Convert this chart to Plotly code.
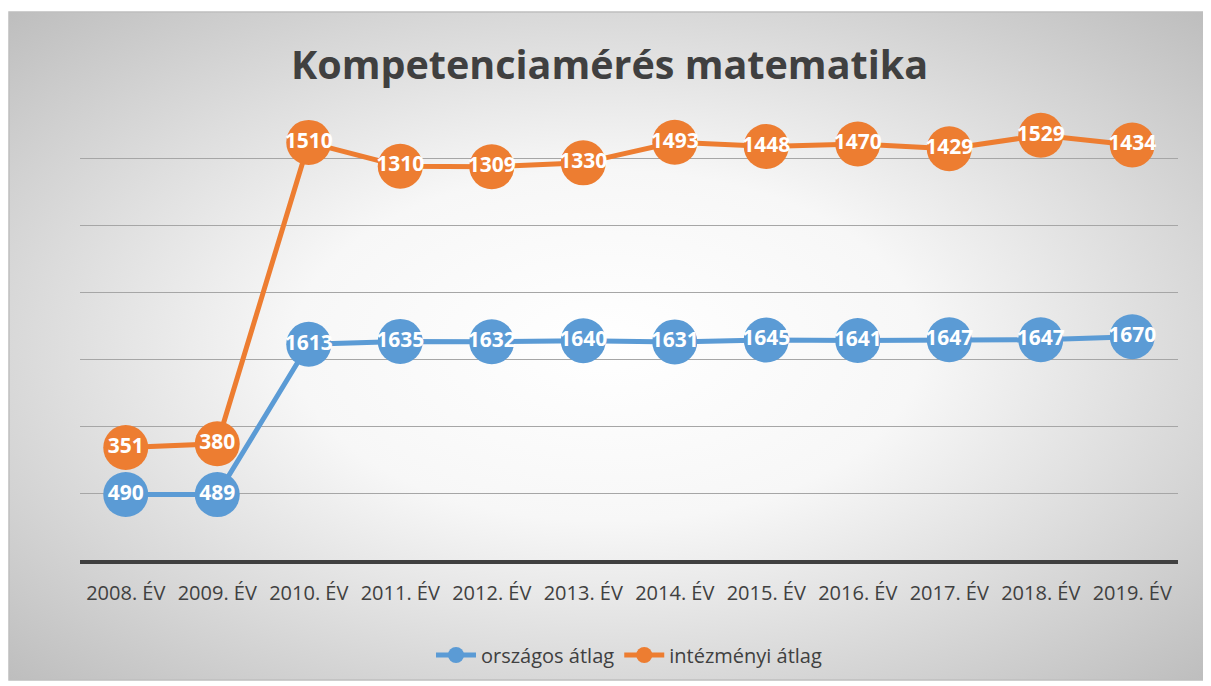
import base64
import plotly.graph_objects as go

categories = ["2008. ÉV", "2009. ÉV", "2010. ÉV", "2011. ÉV", "2012. ÉV", "2013. ÉV",
              "2014. ÉV", "2015. ÉV", "2016. ÉV", "2017. ÉV", "2018. ÉV", "2019. ÉV"]
orszagos = [490, 489, 1613, 1635, 1632, 1640, 1631, 1645, 1641, 1647, 1647, 1670]
intezmenyi = [351, 380, 1510, 1310, 1309, 1330, 1493, 1448, 1470, 1429, 1529, 1434]

BLUE = "#5B9BD5"
ORANGE = "#ED7D31"

OFF = 8  # page body margin
W, H = 1211 - OFF, 686 - OFF
L, R, T, B = 80 - OFF, 33, 92 - OFF, 126
pw, ph = W - L - R, H - T - B

def px_x(px):
    return (px - OFF - L) / pw

def px_y(py):
    return (H - B - (py - OFF)) / ph

svg = ('<svg xmlns="http://www.w3.org/2000/svg" width="400" height="240" preserveAspectRatio="none">'
       '<defs><radialGradient id="g" cx="50%" cy="50%" r="75%">'
       '<stop offset="0%" stop-color="#ffffff"/><stop offset="35%" stop-color="#f7f7f7"/>'
       '<stop offset="100%" stop-color="#b8b8b8"/></radialGradient></defs>'
       '<rect width="400" height="240" fill="url(#g)"/></svg>')
src = "data:image/svg+xml;base64," + base64.b64encode(svg.encode()).decode()

fig = go.Figure()
for name, vals, col in [("országos átlag", orszagos, BLUE), ("intézményi átlag", intezmenyi, ORANGE)]:
    fig.add_trace(go.Scatter(
        x=categories, y=vals, name=name, stackgroup="s", fill="none",
        mode="lines+markers+text", text=[str(v) for v in vals], textposition="middle center",
        textfont=dict(family="Open Sans", size=21, color="white", weight="bold"),
        line=dict(color=col, width=5), marker=dict(size=45, color=col),
        cliponaxis=False, hoverinfo="skip",
    ))

x0, x1 = px_x(9), px_x(1205)
y0, y1 = px_y(680), px_y(12)
fig.add_layout_image(dict(source=src, xref="paper", yref="paper", x=x0, y=y1,
                          sizex=x1 - x0, sizey=y1 - y0, sizing="stretch",
                          xanchor="left", yanchor="top", layer="below"))
fig.add_shape(type="rect", xref="paper", yref="paper", x0=x0, x1=x1, y0=y0, y1=y1,
              line=dict(color="#BFBFBF", width=1.5))

fig.update_layout(
    width=W, height=H, margin=dict(l=L, r=R, t=T, b=B),
    paper_bgcolor="white", plot_bgcolor="rgba(0,0,0,0)",
    title=dict(text="<b>Kompetenciamérés matematika</b>", x=0.5, xanchor="center",
               y=1 - (65 - OFF) / H, yanchor="middle",
               font=dict(family="Open Sans", size=39.5, color="#404040")),
    xaxis=dict(type="category", range=[-0.5, 11.5], showgrid=False, showline=True,
               linecolor="#404040", linewidth=4, ticks="",
               tickfont=dict(family="Open Sans", size=20, color="#404040"), ticklabelstandoff=12),
    yaxis=dict(range=[0, 3500], dtick=500, showticklabels=False, showgrid=True,
               gridcolor="#A6A6A6", gridwidth=1.2, zeroline=False, fixedrange=True),
    showlegend=True,
    legend=dict(orientation="h", x=0.5, xanchor="center", y=px_y(655), yanchor="middle",
                font=dict(family="Open Sans", size=20, color="#404040"),
                bgcolor="rgba(0,0,0,0)", itemwidth=40),
)

fig.write_html("out.html")
